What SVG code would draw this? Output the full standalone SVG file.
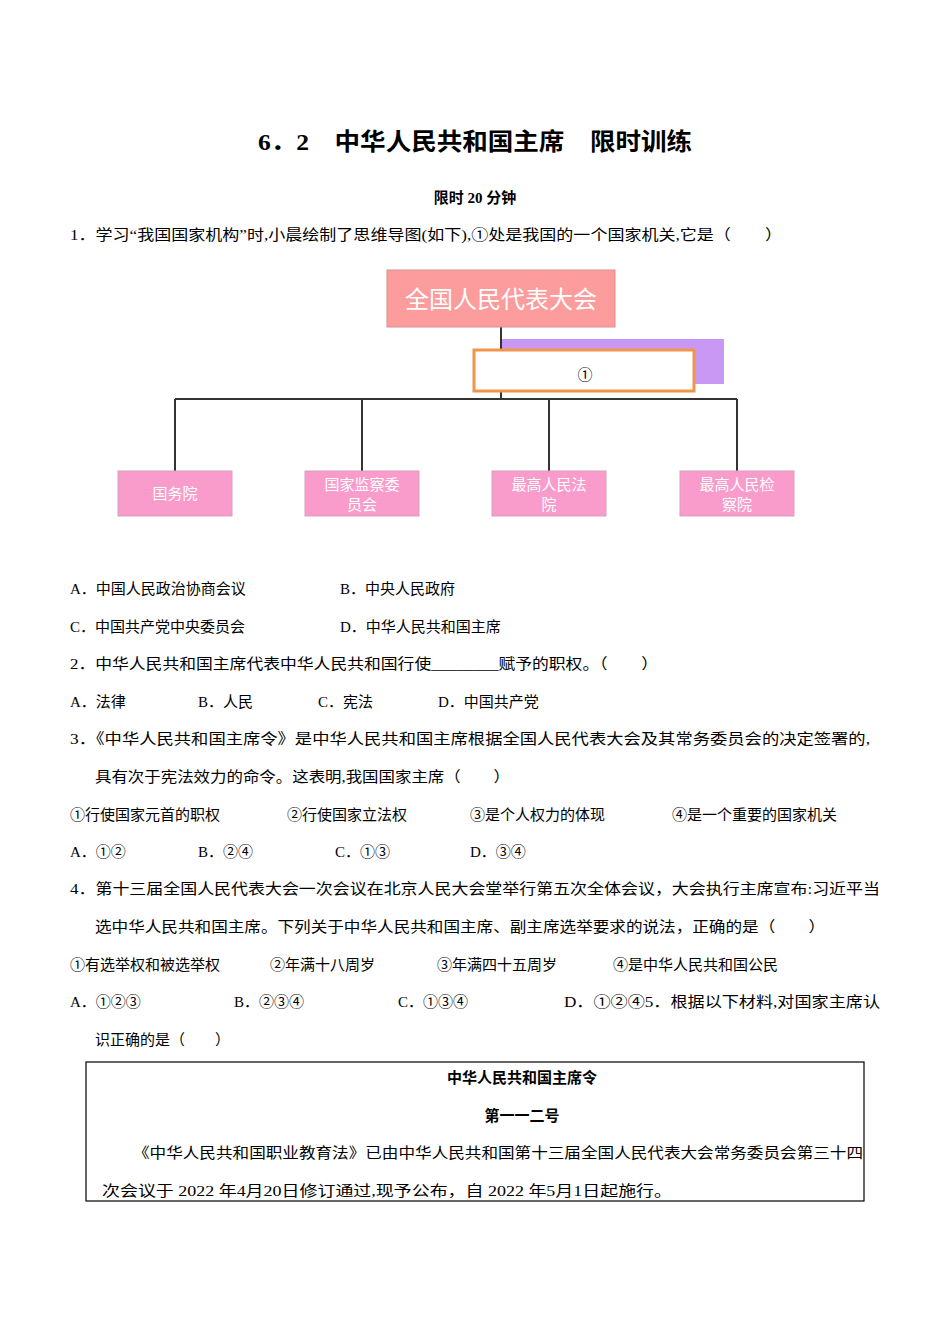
<svg xmlns="http://www.w3.org/2000/svg" width="950" height="1344" viewBox="0 0 950 1344">
<style>
text{font-family:"Liberation Serif","Noto Sans CJK SC",serif;fill:#000}
.t{font-size:15px}
.b{font-weight:bold}
.w{fill:#fff;font-family:"Noto Sans CJK SC",sans-serif;font-size:15px;text-anchor:middle}
.ch{fill:#f99ccb;stroke:#d8a0bb;stroke-width:1}
.ln{stroke:#333;stroke-width:2;fill:none}
</style>
<rect width="950" height="1344" fill="#fff"/>
<text x="258" y="150" class="b" font-size="24" textLength="434" lengthAdjust="spacingAndGlyphs">6．2　中华人民共和国主席　限时训练</text>
<text x="475" y="203" class="b t" text-anchor="middle">限时 20 分钟</text>
<text x="70" y="240" class="t" textLength="712" lengthAdjust="spacingAndGlyphs">1．学习“我国国家机构”时,小晨绘制了思维导图(如下),①处是我国的一个国家机关,它是（　　）</text>
<g id="connectors">
<path class="ln" d="M501 327V399M175 399H737M175 399V471M362 399V471M549 399V471M737 399V471"/>
</g>
<g id="npc"><rect x="387" y="270" width="228" height="57" fill="#fc9c9c" stroke="#d89090"/><text x="501" y="308" class="w" style="font-size:24px">全国人民代表大会</text></g>
<g id="purple"><rect x="502" y="339" width="222" height="45" fill="#c898f4"/></g>
<g id="q1"><rect x="474" y="350" width="220" height="41" fill="#fff" stroke="#f0964a" stroke-width="3"/><text x="585" y="380" class="t" text-anchor="middle">①</text></g>
<g id="c1"><rect class="ch" x="118" y="471" width="114" height="45"/><text x="175" y="499" class="w">国务院</text></g>
<g id="c2"><rect class="ch" x="305" y="471" width="114" height="45"/><text x="362" y="490" class="w">国家监察委</text><text x="362" y="510" class="w">员会</text></g>
<g id="c3"><rect class="ch" x="492" y="471" width="114" height="45"/><text x="549" y="490" class="w">最高人民法</text><text x="549" y="510" class="w">院</text></g>
<g id="c4"><rect class="ch" x="680" y="471" width="114" height="45"/><text x="737" y="490" class="w">最高人民检</text><text x="737" y="510" class="w">察院</text></g>
<g>
<text x="70" y="594" class="t">A．中国人民政治协商会议</text><text x="340" y="594" class="t">B．中央人民政府</text>
<text x="70" y="632" class="t">C．中国共产党中央委员会</text><text x="340" y="632" class="t">D．中华人民共和国主席</text>
<text x="70" y="669" class="t" textLength="588" lengthAdjust="spacingAndGlyphs">2．中华人民共和国主席代表中华人民共和国行使________赋予的职权。（　　）</text>
<text x="70" y="707" class="t">A．法律</text><text x="198" y="707" class="t">B．人民</text><text x="318" y="707" class="t">C．宪法</text><text x="438" y="707" class="t">D．中国共产党</text>
<text x="70" y="744" class="t" textLength="800" lengthAdjust="spacingAndGlyphs">3．《中华人民共和国主席令》是中华人民共和国主席根据全国人民代表大会及其常务委员会的决定签署的,</text>
<text x="95" y="782" class="t" textLength="415" lengthAdjust="spacingAndGlyphs">具有次于宪法效力的命令。这表明,我国国家主席（　　）</text>
<text x="70" y="820" class="t">①行使国家元首的职权</text><text x="287" y="820" class="t">②行使国家立法权</text><text x="470" y="820" class="t">③是个人权力的体现</text><text x="672" y="820" class="t">④是一个重要的国家机关</text>
<text x="70" y="857" class="t">A．①②</text><text x="198" y="857" class="t">B．②④</text><text x="335" y="857" class="t">C．①③</text><text x="470" y="857" class="t">D．③④</text>
<text x="70" y="894" class="t" textLength="810" lengthAdjust="spacingAndGlyphs">4．第十三届全国人民代表大会一次会议在北京人民大会堂举行第五次全体会议，大会执行主席宣布:习近平当</text>
<text x="95" y="932" class="t" textLength="730" lengthAdjust="spacingAndGlyphs">选中华人民共和国主席。下列关于中华人民共和国主席、副主席选举要求的说法，正确的是（　　）</text>
<text x="70" y="970" class="t">①有选举权和被选举权</text><text x="270" y="970" class="t">②年满十八周岁</text><text x="437" y="970" class="t">③年满四十五周岁</text><text x="613" y="970" class="t">④是中华人民共和国公民</text>
<text x="70" y="1007" class="t">A．①②③</text><text x="234" y="1007" class="t">B．②③④</text><text x="398" y="1007" class="t">C．①③④</text><text x="564" y="1007" class="t" textLength="316" lengthAdjust="spacingAndGlyphs">D．①②④5．根据以下材料,对国家主席认</text>
<text x="95" y="1045" class="t">识正确的是（　　）</text>
</g>
<g id="box">
<rect x="86" y="1062" width="778" height="139" fill="none" stroke="#000" stroke-width="1.2"/>
<text x="522" y="1083" class="t b" text-anchor="middle">中华人民共和国主席令</text>
<text x="522" y="1121" class="t b" text-anchor="middle">第一一二号</text>
<text x="133" y="1158" font-size="14.5" textLength="730" lengthAdjust="spacingAndGlyphs">《中华人民共和国职业教育法》已由中华人民共和国第十三届全国人民代表大会常务委员会第三十四</text>
<text x="102" y="1196" font-size="14.5" textLength="570" lengthAdjust="spacingAndGlyphs">次会议于 2022 年4月20日修订通过,现予公布，自 2022 年5月1日起施行。</text>
</g>
</svg>
